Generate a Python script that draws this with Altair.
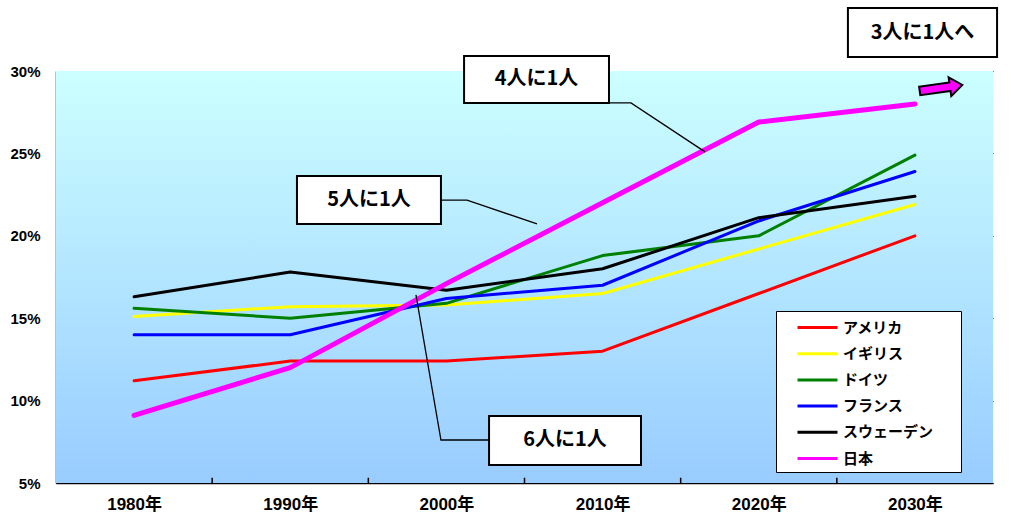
import altair as alt
import pandas as pd

# 高齢化率の推移（各国）
years = [1980, 1990, 2000, 2010, 2020, 2030]
countries = ["アメリカ", "イギリス", "ドイツ", "フランス", "スウェーデン", "日本"]
usa = [11.2, 12.4, 12.4, 13.0, 16.5, 20.0]
uk = [15.1, 15.7, 15.8, 16.5, 19.2, 21.9]
germany = [15.6, 15.0, 15.9, 18.8, 20.0, 24.9]
france = [14.0, 14.0, 16.2, 17.0, 20.9, 23.9]
sweden = [16.3, 17.8, 16.7, 18.0, 21.1, 22.4]
japan = [9.1, 12.0, 17.1, 22.0, 26.9, 28.0]
colors = ["#FF0000", "#FFFF00", "#008000", "#0000FF", "#000000", "#FF00FF"]
y_ticks = [5, 10, 15, 20, 25, 30]
x_boundaries = [1985, 1995, 2005, 2015, 2025]

series = [usa, uk, germany, france, sweden, japan]
rows = []
for name, vals in zip(countries, series):
    for yr, v in zip(years, vals):
        rows.append({"year": yr, "country": name, "value": v})
df = pd.DataFrame(rows)

FONT = "Liberation Sans, Noto Sans CJK JP"
JFONT = "Noto Sans CJK JP"
W, H = 937, 412

x_scale = alt.Scale(domain=[1975, 2035], nice=False, zero=False)
y_scale = alt.Scale(domain=[5, 30], nice=False, zero=False)

# 背景グラデーション
bg = alt.Chart(pd.DataFrame({"a": [0]})).mark_rect(
    fill=alt.Gradient(
        gradient="linear",
        stops=[alt.GradientStop(color="#CCFFFF", offset=0),
               alt.GradientStop(color="#99CCFF", offset=1)],
        x1=0, x2=0, y1=0, y2=1,
    )
).encode(x=alt.value(0), x2=alt.value(W), y=alt.value(0), y2=alt.value(H))

# 軸とグリッド
axes = alt.Chart(pd.DataFrame({"year": [1980], "value": [5]})).mark_point(opacity=0).encode(
    x=alt.X("year:Q", scale=x_scale,
            axis=alt.Axis(values=years, labelExpr="datum.value + '年'", title=None,
                          grid=False, tickSize=0, domainColor="black", domainWidth=1.5,
                          labelFont=FONT, labelFontSize=17, labelFontWeight="bold",
                          labelColor="black", labelPadding=13)),
    y=alt.Y("value:Q", scale=y_scale,
            axis=alt.Axis(values=y_ticks, labelExpr="datum.value + '%'", title=None,
                          grid=True, gridColor="black", gridWidth=1, gridOpacity=1,
                          tickSize=0, domainColor="black", domainWidth=1.5,
                          labelFont=FONT, labelFontSize=15, labelFontWeight="bold",
                          labelColor="black", labelPadding=16)),
)

# 区切りの目盛り
ticks = alt.Chart(pd.DataFrame({"year": x_boundaries})).mark_rule(
    color="black", strokeWidth=1.5
).encode(x=alt.X("year:Q", scale=x_scale), y=alt.datum(5), y2=alt.datum(5.32))

# 凡例の枠幅をそろえるための空白文字
PAD = "\u2800" * 2
lines = alt.Chart(df).mark_line(strokeCap="round", strokeJoin="round").encode(
    x=alt.X("year:Q", scale=x_scale),
    y=alt.Y("value:Q", scale=y_scale),
    color=alt.Color("country:N", sort=countries,
                    scale=alt.Scale(domain=countries, range=colors),
                    legend=alt.Legend(title=None, orient="none", legendX=720, legendY=240,
                                      fillColor="white", strokeColor="black",
                                      padding=5,
                                      symbolType="M0.5,0 L4.5,0", symbolSize=400,
                                      symbolStrokeWidth=3,
                                      rowPadding=6.2, labelOffset=39,
                                      labelExpr=f"datum.label + '{PAD}'",
                                      labelFont=JFONT, labelFontSize=15,
                                      labelFontWeight="bold", labelColor="black")),
    strokeWidth=alt.condition(alt.datum.country == "日本", alt.value(5), alt.value(3)),
    order=alt.Order("year:Q"),
)

# 吹き出し
box_df = pd.DataFrame({
    "label": ["4人に1人", "5人に1人", "6人に1人", "3人に1人へ"],
    "x0": [2001.13, 1990.43, 2002.73, 2025.71],
    "x1": [2010.41, 1999.65, 2012.46, 2035.26],
    "y0": [28.06, 20.72, 6.09, 30.85],
    "y1": [30.91, 23.63, 9.07, 33.82],
})
box_df["xc"] = (box_df["x0"] + box_df["x1"]) / 2
box_df["yc"] = (box_df["y0"] + box_df["y1"]) / 2

boxes = alt.Chart(box_df).mark_rect(fill="white", stroke="black", strokeWidth=2).encode(
    x=alt.X("x0:Q", scale=x_scale), x2="x1:Q",
    y=alt.Y("y0:Q", scale=y_scale), y2="y1:Q",
)
box_text = alt.Chart(box_df).mark_text(
    font=JFONT, fontSize=20, fontWeight="bold", color="black", baseline="middle", align="center"
).encode(
    x=alt.X("xc:Q", scale=x_scale), y=alt.Y("yc:Q", scale=y_scale), text="label:N"
)

leader_df = pd.DataFrame({
    "id": ["a"] * 3 + ["b"] * 3 + ["c"] * 3,
    "step": [0, 1, 2] * 3,
    "x": [2010.41, 2011.82, 2016.56, 1999.65, 2001.32, 2005.80, 2002.73, 1999.65, 1998.05],
    "y": [28.06, 28.06, 25.09, 22.17, 22.17, 20.72, 7.61, 7.61, 16.41],
})
leaders = alt.Chart(leader_df).mark_line(color="black", strokeWidth=1.3).encode(
    x=alt.X("x:Q", scale=x_scale), y=alt.Y("y:Q", scale=y_scale),
    detail="id:N", order="step:Q",
)

arrow_path = "M-1,-0.2 L0.42,-0.2 L0.42,-0.44 L1,0 L0.42,0.44 L0.42,0.2 L-1,0.2 Z"
arrow = alt.Chart(pd.DataFrame({"x": [2031.67], "y": [28.97]})).mark_point(
    shape=arrow_path, size=1850, filled=True, fill="#FF00FF", stroke="black",
    strokeWidth=2, opacity=1, angle=352
).encode(x=alt.X("x:Q", scale=x_scale), y=alt.Y("y:Q", scale=y_scale))

chart = alt.layer(bg, axes, ticks, lines, leaders, boxes, box_text, arrow).properties(
    width=W, height=H, autosize="none",
    padding={"left": 56, "top": 71, "right": 18, "bottom": 38},
    background="white",
).configure_view(stroke=None)

chart.save("out.html", embed_options={"renderer": "svg", "actions": False})
